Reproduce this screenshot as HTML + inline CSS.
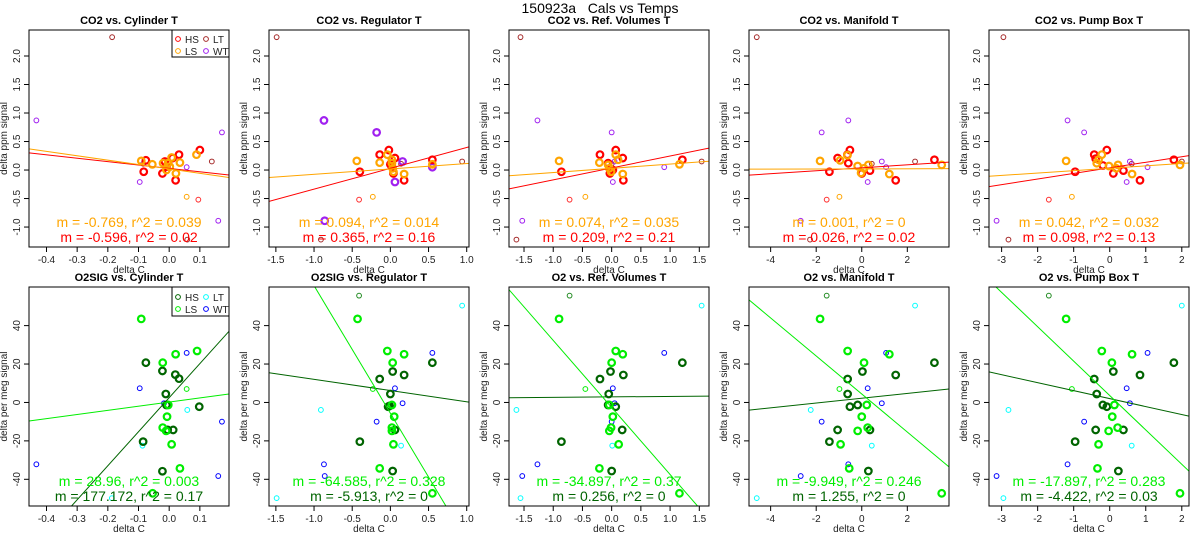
<!DOCTYPE html>
<html><head><meta charset="utf-8"><style>
html,body{margin:0;padding:0;background:#fff;}
svg{display:block;font-family:"Liberation Sans",Arial,sans-serif;}
</style></head><body>
<svg id="chart" width="1200" height="550" viewBox="0 0 1200 550">
<text x="600" y="13" font-size="14" text-anchor="middle" xml:space="preserve" style="white-space:pre">150923a   Cals vs Temps</text>
</svg>
<script>
// ---------- data ----------
const TITLES_TOP = ["CO2 vs. Cylinder T","CO2 vs. Regulator T","CO2 vs. Ref. Volumes T","CO2 vs. Manifold T","CO2 vs. Pump Box T"];
const TITLES_BOT = ["O2SIG vs. Cylinder T","O2SIG vs. Regulator T","O2 vs. Ref. Volumes T","O2 vs. Manifold T","O2 vs. Pump Box T"];
const X_RANGES = [[-0.457,0.195],[-1.59,1.03],[-1.757,1.666],[-4.95,3.83],[-3.35,2.2]];
const X_TICKS = [[-0.4,-0.3,-0.2,-0.1,0.0,0.1],[-1.5,-1.0,-0.5,0.0,0.5,1.0],[-1.5,-1.0,-0.5,0.0,0.5,1.0,1.5],[-4,-2,0,2],[-3,-2,-1,0,1,2]];
const X_TICK_LABELS = [["-0.4","-0.3","-0.2","-0.1","0.0","0.1"],["-1.5","-1.0","-0.5","0.0","0.5","1.0"],["-1.5","-1.0","-0.5","0.0","0.5","1.0","1.5"],["-4","-2","0","2"],["-3","-2","-1","0","1","2"]];
const Y_RANGE_TOP = [-1.35,2.456];
const Y_TICKS_TOP = [-1.0,-0.5,0.0,0.5,1.0,1.5,2.0];
const Y_TICK_LABELS_TOP = ["-1.0","-0.5","0.0","0.5","1.0","1.5","2.0"];
const Y_RANGE_BOT = [-53.9,60.1];
const Y_TICKS_BOT = [-40,-20,0,20,40];
const Y_TICK_LABELS_BOT = ["-40","-20","0","20","40"];

const TOP_HS = [
 [[-0.076,0.17],[-0.083,-0.03],[-0.022,-0.06],[0.011,0.21],[0.032,0.27],[0.021,-0.18],[0.1,0.35],[-0.009,0.06],[-0.014,0.15]],
 [[-0.14,0.27],[-0.02,0.35],[-0.40,-0.03],[0.06,0.21],[0.18,-0.18],[0.55,0.18],[0.02,0.06],[0.04,-0.06],[0.0,0.1]],
 [[-0.2,0.27],[0.07,0.35],[-0.86,-0.03],[0.19,0.21],[0.2,-0.18],[1.21,0.18],[-0.06,0.12],[-0.03,-0.06],[0.02,0.0]],
 [[-0.63,0.27],[-0.52,0.35],[-1.42,-0.03],[-1.06,0.21],[1.49,-0.18],[3.19,0.18],[-0.59,0.12],[0.0,-0.06],[0.36,-0.01]],
 [[-0.43,0.27],[-0.08,0.35],[-0.96,-0.03],[-0.39,0.2],[0.84,-0.18],[1.78,0.18],[-0.19,0.08],[0.1,-0.06],[0.38,-0.01]]
];
const TOP_HS_THIN = [[[0.095,-0.52]],[[-0.41,-0.52]],[[-0.72,-0.52]],[[-1.54,-0.52]],[[-1.69,-0.52]]];
const TOP_LS = [
 [[-0.091,0.16],[-0.055,0.1],[-0.02,0.12],[-0.009,0.0],[-0.004,0.12],[0.008,0.22],[0.022,-0.06],[0.035,0.13],[0.089,0.27],[0.002,0.06]],
 [[-0.44,0.16],[-0.14,0.13],[-0.04,0.27],[0.18,-0.07],[0.55,0.1],[0.02,0.18],[0.03,0.03],[0.04,-0.03],[0.02,0.12]],
 [[-0.9,0.16],[-0.21,0.13],[0.07,0.27],[0.19,-0.07],[1.16,0.1],[0.11,0.18],[-0.04,0.03],[-0.01,-0.03],[-0.06,0.09]],
 [[-1.83,0.16],[-0.95,0.17],[-0.63,0.26],[1.21,-0.07],[3.51,0.09],[-0.18,0.07],[0.1,0.03],[0.29,0.09],[-0.03,-0.05]],
 [[-1.21,0.16],[-0.31,0.18],[-0.22,0.27],[0.62,-0.07],[1.95,0.09],[-0.02,0.07],[0.18,0.03],[0.23,0.09],[-0.36,0.12]]
];
const TOP_LS_THIN = [[[0.057,-0.47]],[[-0.23,-0.47]],[[-0.45,-0.47]],[[-0.98,-0.47]],[[-1.05,-0.47]]];
const TOP_LT = [
 [[-0.186,2.33],[0.139,0.15],[0.059,-1.22],[-0.085,0.11]],
 [[-1.49,2.33],[0.94,0.15],[-0.91,-1.22],[0.14,0.11]],
 [[-1.56,2.33],[1.54,0.15],[-1.63,-1.22],[0.0,0.11]],
 [[-4.61,2.33],[2.34,0.15],[-2.27,-1.22],[0.44,0.11]],
 [[-2.95,2.33],[2.0,0.15],[-2.81,-1.22],[0.61,0.11]]
];
const TOP_WT = [
 [[-0.433,0.87],[0.172,0.66],[-0.096,-0.21],[0.057,0.05],[0.16,-0.89],[-0.017,0.15]],
 [[-0.87,0.87],[-0.18,0.66],[0.06,-0.21],[0.55,0.05],[-0.86,-0.89],[0.16,0.15]],
 [[-1.27,0.87],[0.0,0.66],[0.02,-0.21],[0.9,0.05],[-1.53,-0.89],[0.05,0.15]],
 [[-0.59,0.87],[-1.76,0.66],[0.26,-0.21],[1.07,0.05],[-2.68,-0.89],[0.88,0.15]],
 [[-1.17,0.87],[-0.71,0.66],[0.47,-0.21],[1.05,0.05],[-3.14,-0.89],[0.56,0.15]]
];
const TOP_HS_FIT = [[0.028,-0.596],[0.03,0.365],[0.037,0.209],[0.039,0.026],[0.038,0.098]];
const TOP_LS_FIT = [[0.019,-0.769],[0.019,0.094],[0.03,0.074],[0.02,0.001],[0.031,0.042]];
const TOP_LS_TEXT = ["m = -0.769, r^2 = 0.039","m = 0.094, r^2 = 0.014","m = 0.074, r^2 = 0.035","m = 0.001, r^2 = 0","m = 0.042, r^2 = 0.032"];
const TOP_HS_TEXT = ["m = -0.596, r^2 = 0.02","m = 0.365, r^2 = 0.16","m = 0.209, r^2 = 0.21","m = 0.026, r^2 = 0.02","m = 0.098, r^2 = 0.13"];

const BOT_HS = [
 [[-0.076,20.7],[-0.022,16.4],[0.02,14.5],[0.032,12.4],[-0.011,4.4],[-0.009,-1.3],[0.013,-14.3],[-0.005,-14.3],[-0.085,-20.4],[-0.022,-35.8],[0.098,-2.2]],
 [[-0.14,12.2],[0.03,16.1],[0.18,14.3],[0.0,4.4],[-0.01,-1.8],[0.06,-14.3],[-0.4,-20.4],[0.03,-35.7],[0.55,20.7],[-0.03,-2.2]],
 [[-0.2,12.2],[-0.02,16.1],[0.2,14.3],[-0.05,4.4],[0.07,-2.2],[0.18,-14.3],[-0.86,-20.4],[0.0,-35.7],[1.21,20.7],[-0.06,-1.3]],
 [[-0.62,12.2],[0.03,16.1],[1.49,14.3],[-0.62,4.4],[-0.52,-2.2],[0.36,-14.3],[-1.42,-20.4],[0.29,-35.7],[3.19,20.7],[-0.18,-1.3],[-1.06,-14.3]],
 [[-0.43,12.2],[0.1,16.1],[0.84,14.3],[-0.36,4.4],[-0.08,-2.2],[0.38,-14.3],[-0.96,-20.4],[0.24,-35.7],[1.78,20.7],[-0.19,-1.3],[-0.39,-14.3]]
];
const BOT_HS_THIN = [[],[[-0.41,55.6]],[[-0.72,55.6]],[[-1.54,55.6]],[[-1.69,55.6]]];
const BOT_LS = [
 [[-0.091,43.5],[-0.021,20.7],[0.021,25.1],[0.091,26.8],[-0.007,-7.4],[-0.021,-13.1],[-0.01,-14.8],[0.008,-21.8],[0.035,-34.3],[-0.054,-47.3],[-0.003,-1.3]],
 [[-0.43,43.5],[-0.04,26.8],[0.03,20.7],[0.18,25.1],[0.05,-7.4],[0.02,-13.1],[0.02,-14.8],[0.04,-21.8],[-0.14,-34.3],[0.55,-47.3],[0.02,-1.3]],
 [[-0.9,43.5],[0.07,26.8],[0.0,20.7],[0.19,25.1],[0.02,-7.4],[-0.01,-13.1],[-0.04,-14.8],[0.12,-21.8],[-0.21,-34.3],[1.16,-47.3],[-0.04,-1.3]],
 [[-1.83,43.5],[-0.62,26.8],[0.1,20.7],[1.21,25.1],[0.0,-7.4],[0.26,-13.1],[-0.18,-14.8],[-0.93,-21.8],[-0.55,-34.3],[3.51,-47.3],[0.22,-1.3]],
 [[-1.21,43.5],[-0.22,26.8],[0.06,20.7],[0.62,25.1],[0.07,-7.4],[0.22,-13.1],[-0.03,-14.8],[-0.31,-21.8],[-0.34,-34.3],[1.95,-47.3],[0.13,-1.3]]
];
const BOT_LS_THIN = [[[0.057,7]],[[-0.23,7]],[[-0.45,7]],[[-0.98,7]],[[-1.05,7]]];
const BOT_LT = [
 [[-0.087,-22.5],[0.059,-3.9],[-0.187,-49.8]],
 [[0.94,50.4],[-0.91,-3.9],[0.14,-22.5],[-1.49,-49.8]],
 [[1.54,50.4],[-1.63,-3.9],[0.01,-22.5],[-1.56,-49.8]],
 [[2.34,50.4],[-2.24,-3.9],[0.44,-22.5],[-4.61,-49.8]],
 [[2.0,50.4],[-2.81,-3.9],[0.61,-22.5],[-2.95,-49.8]]
];
const BOT_WT = [
 [[-0.433,-32.2],[-0.096,7.4],[0.057,25.8],[0.172,-10],[0.16,-38.3],[-0.017,-0.4]],
 [[-0.87,-32.2],[-0.18,-10],[0.06,7.4],[0.55,25.8],[-0.86,-38.3],[0.16,-0.4]],
 [[-1.27,-32.2],[0.0,-10],[0.02,7.4],[0.9,25.8],[-1.53,-38.3],[0.05,-0.4]],
 [[-0.59,-32.2],[-1.76,-10],[0.26,7.4],[1.07,25.8],[-2.68,-38.3],[0.88,-0.4]],
 [[-1.17,-32.2],[-0.71,-10],[0.47,7.4],[1.05,25.8],[-3.14,-38.3],[0.56,-0.4]]
];
const BOT_HS_FIT = [[2.5,177.172],[6.2,-5.84],[2.9,0.256],[2.2,1.255],[2.0,-4.15]];
const BOT_LS_FIT = [[0.2,21.5],[-5.6,-66.4],[-2.6,-34.9],[4.4,-9.9],[3.6,-17.9]];
const BOT_LS_TEXT = ["m = 28.96, r^2 = 0.003","m = -64.585, r^2 = 0.328","m = -34.897, r^2 = 0.37","m = -9.949, r^2 = 0.246","m = -17.897, r^2 = 0.283"];
const BOT_HS_TEXT = ["m = 177.172, r^2 = 0.17","m = -5.913, r^2 = 0","m = 0.256, r^2 = 0","m = 1.255, r^2 = 0","m = -4.422, r^2 = 0.03"];

// ---------- drawing ----------
const NS = "http://www.w3.org/2000/svg";
const svg = document.getElementById("chart");
function mk(tag, attrs, parent, txt){
  const e = document.createElementNS(NS, tag);
  for (const k in attrs) e.setAttribute(k, attrs[k]);
  if (txt !== undefined) e.textContent = txt;
  (parent || svg).appendChild(e);
  return e;
}

function panel(row, i){
  const L = 240*i + 29, R = 240*i + 229;
  const T = row === 0 ? 30 : 287, B = row === 0 ? 247 : 506;
  const [x0,x1] = X_RANGES[i];
  const [y0,y1] = row === 0 ? Y_RANGE_TOP : Y_RANGE_BOT;
  const sx = v => L + (v - x0) / (x1 - x0) * (R - L);
  const sy = v => B - (v - y0) / (y1 - y0) * (B - T);
  const g = mk("g", {});
  
  
  const clipId = "clip" + row + "_" + i;
  const cp = mk("clipPath", {id: clipId}, g);
  mk("rect", {x:L, y:T, width:R-L, height:B-T}, cp);

  const title = mk("text", {x:(L+R)/2, y: T-6, "font-size":11, "font-weight":"bold", "text-anchor":"middle"}, g, row===0?TITLES_TOP[i]:TITLES_BOT[i]);
  
  

  const xa = mk("g", {}, g);
  
  
  const xt = X_TICKS[i];
  mk("line", {x1:sx(xt[0]), x2:sx(xt[xt.length-1]), y1:B, y2:B, stroke:"#000", "stroke-width":1}, xa);
  xt.forEach((v, k) => {
    mk("line", {x1:sx(v), x2:sx(v), y1:B, y2:B+5, stroke:"#000"}, xa);
    const t = mk("text", {x:sx(v), y:B+16, "font-size":10, "text-anchor":"middle", fill:"#222"}, xa, X_TICK_LABELS[i][k]);
    
    
  });
  const xl = mk("text", {x:(L+R)/2, y:B+26, "font-size":10, "text-anchor":"middle", fill:"#222"}, xa, "delta C");
  
  

  const ya = mk("g", {}, g);
  
  
  const yt = row===0 ? Y_TICKS_TOP : Y_TICKS_BOT;
  const yl = row===0 ? Y_TICK_LABELS_TOP : Y_TICK_LABELS_BOT;
  mk("line", {x1:L, x2:L, y1:sy(yt[0]), y2:sy(yt[yt.length-1]), stroke:"#000"}, ya);
  yt.forEach((v, k) => {
    mk("line", {x1:L-5, x2:L, y1:sy(v), y2:sy(v), stroke:"#000"}, ya);
    const t = mk("text", {x:0, y:0, "font-size":10, "text-anchor":"middle", fill:"#222",
      transform:`translate(${L-9},${sy(v)}) rotate(-90)`}, ya, yl[k]);
    
    
  });
  const ytl = mk("text", {x:0, y:0, "font-size":10, "text-anchor":"middle", fill:"#222",
    transform:`translate(${L-22},${(T+B)/2}) rotate(-90)`}, ya, row===0 ? "delta ppm signal" : "delta per meg signal");
  
  

  const plot = mk("g", {"clip-path":`url(#${clipId})`}, g);
  
  

  const cHS = row===0 ? "#ff0000" : "#006400";
  const cLS = row===0 ? "#ffa500" : "#00ee00";
  const cLT = row===0 ? "#a52a2a" : "#00ffff";
  const cWT = row===0 ? "#a020f0" : "#0000ff";
  const cHSt = row===0 ? "#ff3030" : "#228b22";

  function pts(arr, color, thick, name){
    arr.forEach(p => {
      const c = mk("circle", {cx:sx(p[0]), cy:sy(p[1]), r: thick?3.3:2.4, fill:"none", stroke:color, "stroke-width": thick?2.2:1}, plot);
      
      
    });
  }
  function fit(ab, color, name){
    const l = mk("line", {x1:sx(x0), y1:sy(ab[0]+ab[1]*x0), x2:sx(x1), y2:sy(ab[0]+ab[1]*x1), stroke:color, "stroke-width":1}, plot);
    
    
  }
  if (row===0){
    pts(TOP_LT[i], cLT, false, 'point-lt');
    pts(TOP_WT[i], cWT, i===1, 'point-wt');
    pts(TOP_HS_THIN[i], cHSt, false, 'point-hs');
    pts(TOP_LS_THIN[i], cLS, false, 'point-ls');
    pts(TOP_HS[i], cHS, true, 'point-hs');
    pts(TOP_LS[i], cLS, true, 'point-ls');
    fit(TOP_HS_FIT[i], cHS, 'fit-line-hs');
    fit(TOP_LS_FIT[i], cLS, 'fit-line-ls');
  } else {
    pts(BOT_LT[i], cLT, false, 'point-lt');
    pts(BOT_WT[i], cWT, false, 'point-wt');
    pts(BOT_HS_THIN[i], cHSt, false, 'point-hs');
    pts(BOT_LS_THIN[i], cLS, false, 'point-ls');
    pts(BOT_HS[i], cHS, true, 'point-hs');
    pts(BOT_LS[i], cLS, true, 'point-ls');
    fit(BOT_HS_FIT[i], cHS, 'fit-line-hs');
    fit(BOT_LS_FIT[i], cLS, 'fit-line-ls');
  }

  const ty1 = row===0 ? 227 : 486, ty2 = row===0 ? 242 : 501;
  const a1 = mk("text", {x:(L+R)/2, y:ty1, "font-size":14, "text-anchor":"middle", fill:cLS}, g, row===0?TOP_LS_TEXT[i]:BOT_LS_TEXT[i]);
  
  
  const a2 = mk("text", {x:(L+R)/2, y:ty2, "font-size":14, "text-anchor":"middle", fill:cHS}, g, row===0?TOP_HS_TEXT[i]:BOT_HS_TEXT[i]);
  
  

  mk("rect", {x:L, y:T, width:R-L, height:B-T, fill:"none", stroke:"#000", "stroke-width":1}, g);

  if (i===0){
    const lg = mk("g", {}, g);
    
    
    const lx = L+143, ly = T;
    mk("rect", {x:lx, y:ly, width:R-lx, height:row===0?27:29, fill:"#fff", stroke:"#000"}, lg);
    const ents = [["HS",cHS,6,9],["LS",cLS,6,21],["LT",cLT,34,9],["WT",cWT,34,21]];
    ents.forEach(e => {
      const ent = mk("g", {}, lg);
      
      
      mk("circle", {cx:lx+e[2], cy:ly+e[3]+(row===0?0:1), r:2.4, fill:"none", stroke:e[1], "stroke-width":1}, ent);
      mk("text", {x:lx+e[2]+7, y:ly+e[3]+4+(row===0?0:1), "font-size":10, fill:"#222"}, ent, e[0]);
    });
  }
}
for (let i=0;i<5;i++){ panel(0,i); panel(1,i); }
</script>
</body></html>
